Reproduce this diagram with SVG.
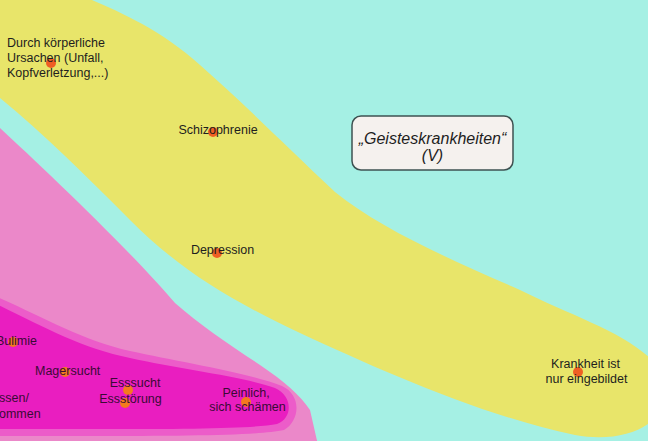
<svg xmlns="http://www.w3.org/2000/svg" width="648" height="441" viewBox="0 0 648 441">
<style>
.t{font-family:"Liberation Sans",Arial,sans-serif;font-size:12.5px;fill:#1e1e1e}
.tp{font-family:"Liberation Sans",Arial,sans-serif;font-size:12.5px;fill:#3a0a36}
.c{text-anchor:middle}
.dot{fill:#ef5f24}
.dotp{fill:#f47a1e}
.title{font-family:"Liberation Sans",Arial,sans-serif;font-size:16px;font-style:italic;fill:#1e1e1e;text-anchor:middle}
</style>
<rect x="0" y="0" width="648" height="441" fill="#a5f0e4"/>
<g id="yellow-region">
<path d="M -10,-10 L 70,-10 C 100,5 150,20 200,65 C 240,100 280,140 335,192 C 380,228 440,255 520,290 C 580,320 650,340 665,380 C 675,420 630,445 575,435 C 480,415 380,370 300,333 C 230,300 180,270 130,220 C 80,170 40,130 -10,90 Z" fill="#e8e56a"/>
</g>
<g id="pink-region">
<path d="M -10,118 L 0,128 C 40,165 130,250 175,303 C 200,325 230,345 260,365 C 285,382 300,395 310,410 L 318,445 L -10,445 Z" fill="#eb88c9"/>
<path d="M -10,294 C 40,315 80,340 130,351 C 180,362 250,373 282,386 C 302,395 300,421 284,430 C 250,437 150,436 -10,436 Z" fill="#ec5cc9"/>
<path d="M -10,301 C 40,325 80,348 130,358 C 180,369 245,377 275,388 C 293,396 293,418 277,424 C 245,430 150,429 -10,429 Z" fill="#e91ec0"/>
</g>
<g id="connectors"></g>
<g id="node-koerperlich">
<circle class="dot" cx="51" cy="63" r="5"/>
<text class="t" x="7" y="47">Durch körperliche</text>
<text class="t" x="7" y="62">Ursachen (Unfall,</text>
<text class="t" x="7" y="77">Kopfverletzung,...)</text>
</g>
<g id="node-schizophrenie">
<circle class="dot" cx="213" cy="132" r="5"/>
<text class="t c" x="218" y="134">Schizophrenie</text>
</g>
<g id="node-depression">
<circle class="dot" cx="217" cy="253" r="5"/>
<text class="t c" x="222.5" y="254">Depression</text>
</g>
<g id="node-eingebildet">
<circle class="dot" cx="578" cy="372" r="5"/>
<text class="t c" x="585.5" y="368">Krankheit ist</text>
<text class="t c" x="586.5" y="383">nur eingebildet</text>
</g>
<g id="node-title">
<rect x="352" y="116" width="161" height="54" rx="9" ry="9" fill="#f5f1ee" stroke="#3e5151" stroke-width="1.5"/>
<text class="title" x="432.5" y="144">„Geisteskrankheiten“</text>
<text class="title" x="432.5" y="161">(V)</text>
</g>
<g id="node-bulimie">
<circle class="dotp" cx="13" cy="342" r="5"/>
<text class="tp" x="-4" y="345">Bulimie</text>
</g>
<g id="node-magersucht">
<circle class="dotp" cx="65" cy="372" r="5"/>
<text class="tp" x="35" y="375">Magersucht</text>
</g>
<g id="node-esssucht">
<circle class="dotp" cx="128" cy="390" r="5"/>
<text class="tp c" x="135" y="387">Esssucht</text>
</g>
<g id="node-essstoerung">
<circle class="dotp" cx="125" cy="403" r="5"/>
<text class="tp c" x="130.5" y="403">Essstörung</text>
</g>
<g id="node-essen">
<text class="tp" x="-1" y="402">ssen/</text>
<text class="tp" x="-1" y="418">ommen</text>
</g>
<g id="node-peinlich">
<circle class="dotp" cx="246" cy="402" r="5"/>
<text class="tp c" x="246" y="397">Peinlich,</text>
<text class="tp c" x="247.5" y="411">sich schämen</text>
</g>
</svg>
